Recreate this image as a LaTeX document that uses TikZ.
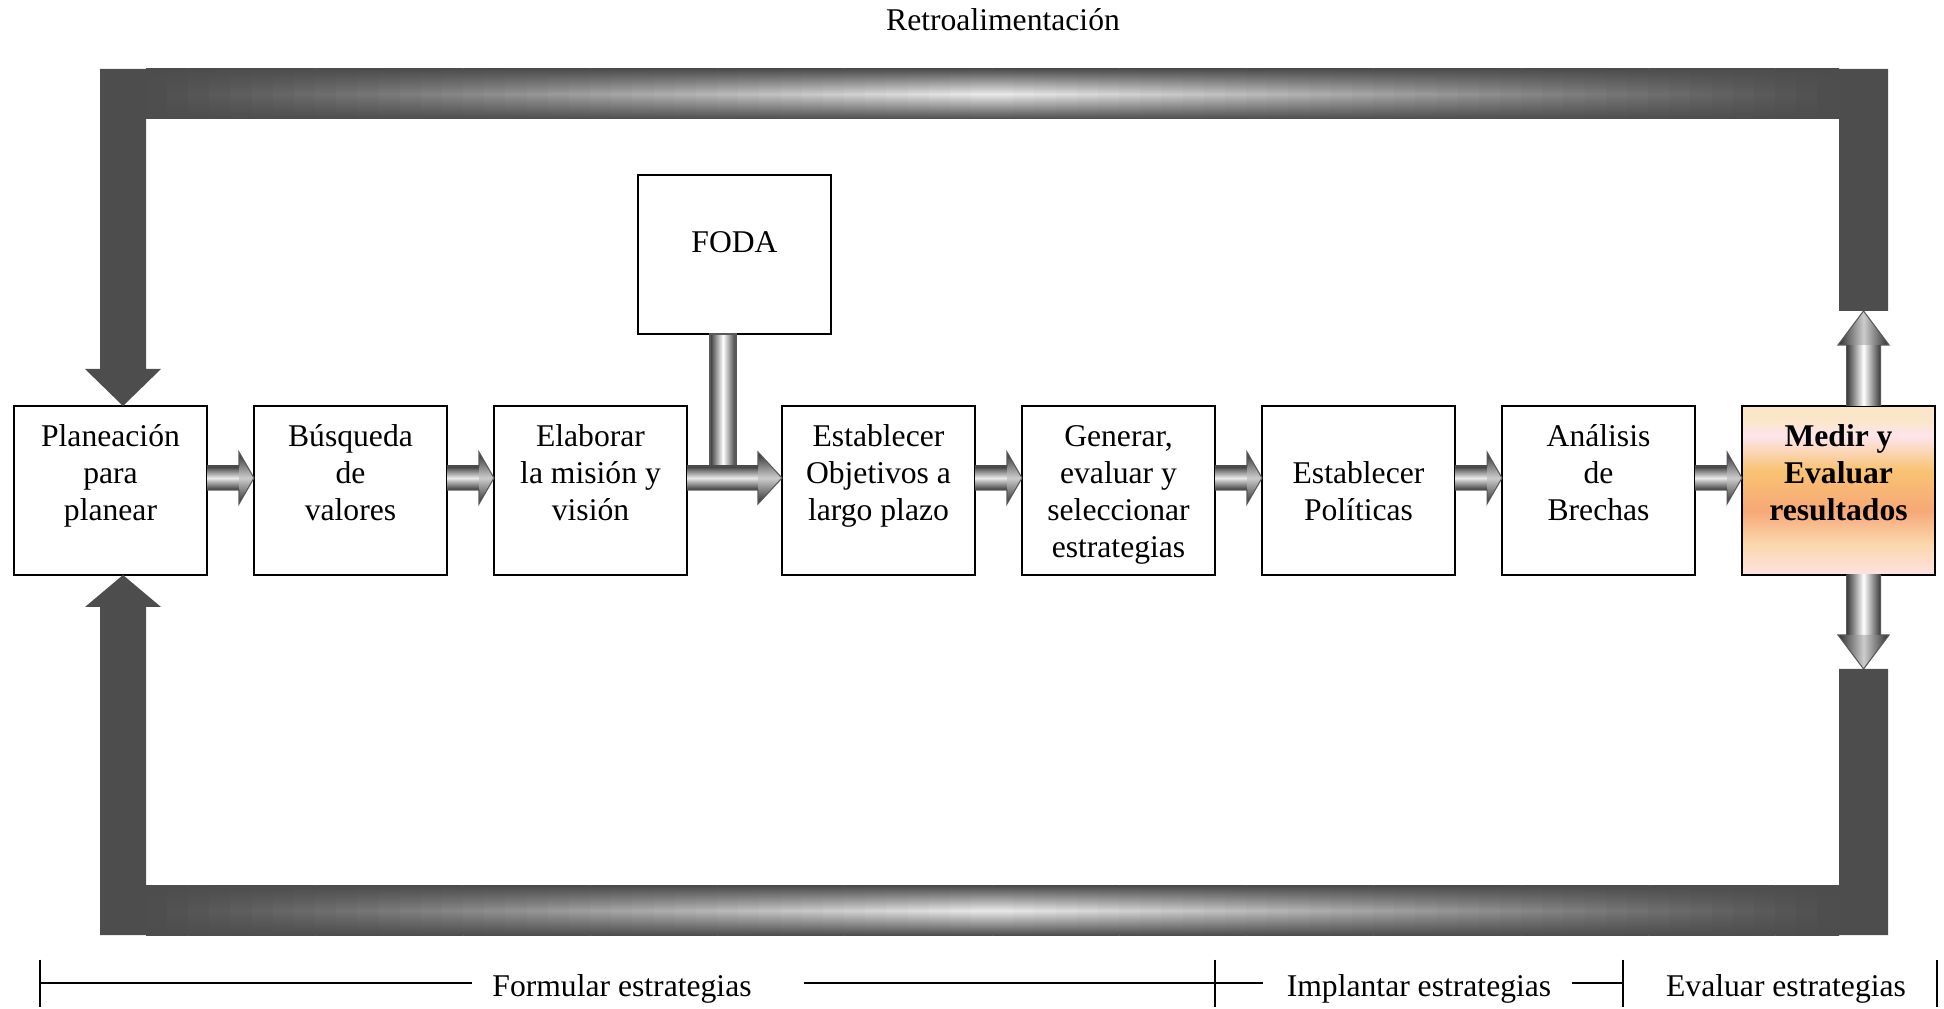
\documentclass[tikz,border=0pt]{standalone}
\usepackage{fontspec}
\setmainfont{Liberation Serif}
\usetikzlibrary{positioning, calc}
\definecolor{bar}{HTML}{4D4D4D}
\definecolor{mcream}{HTML}{FBE6C9}
\definecolor{mpink}{HTML}{FDE5EC}
\definecolor{morange}{HTML}{F9C372}
\definecolor{msalmon}{HTML}{F6A877}
\definecolor{mlight}{HTML}{FCD8AE}
\definecolor{mrose}{HTML}{FDE2E2}
\pgfdeclareverticalshading{medirfill}{100bp}{color(0bp)=(mrose); color(25bp)=(mrose);
  color(34bp)=(mlight); color(44bp)=(msalmon); color(56bp)=(morange); color(66bp)=(mpink);
  color(71bp)=(mcream); color(75bp)=(mcream); color(100bp)=(mcream)}
% invisible rules that fix the four text slots of a box
\newcommand{\boxtop}{\rule{0pt}{10.7pt}}
\newcommand{\boxbot}{\rule[-4pt]{0pt}{4pt}}
% fat shaded arrow between two boxes: #1 head length
\newcommand{\flow}[3][0.15]{%
  \shade[shaft] ($(#2.east)+(0,0.005)$) rectangle ($(#3.west)+(-#1,0.245)$);
  \shade[head] ($(#3.west)+(-#1,-0.135)$) -- ($(#3.west)+(0,0.125)$) -- ($(#3.west)+(-#1,0.385)$) -- cycle;
  \draw[rim] ($(#2.east)+(0,0.005)$) -- ($(#3.west)+(-#1,0.005)$) -- ($(#3.west)+(-#1,-0.135)$)
    -- ($(#3.west)+(0,0.125)$) -- ($(#3.west)+(-#1,0.385)$) -- ($(#3.west)+(-#1,0.245)$) -- ($(#2.east)+(0,0.245)$);}

\begin{document}
\begin{tikzpicture}[font=\fontsize{9}{10.5}\selectfont,
  box/.style={draw, line width=0.6pt, fill=white, align=center, inner sep=0pt, outer sep=0pt,
              minimum width=1.93cm, minimum height=1.69cm},
  hot/.style={box, shade, shading=medirfill, font=\fontsize{9}{10.5}\selectfont\bfseries},
  shaft/.style={top color=black!78, bottom color=black!78, middle color=black!8},
  head/.style={top color=black!82, bottom color=black!82, middle color=black!20},
  vshaft/.style={left color=black!78, right color=black!78, middle color=white},
  vhead/.style={left color=black!82, right color=black!82, middle color=black!20},
  rim/.style={draw=black!65, line width=0.3pt},
  rule/.style={line width=0.5pt},
  lb/.style={inner sep=0pt, text height=7.4pt, text depth=0pt}]
  \useasboundingbox (0,0) rectangle (19.44,10.08);

  \node (retro) at (10.03,9.88) {Retroalimentación};

  % chain of steps
  \node[box] (plan) at (1.105,5.175) {\boxtop Planeación\\para\\planear\\\boxbot};
  \node[box, right=0.47cm of plan] (valores) {\boxtop Búsqueda\\de\\valores\\\boxbot};
  \node[box, right=0.47cm of valores] (mision) {\boxtop Elaborar\\la misión y\\visión\\\boxbot};
  \node[box, right=0.95cm of mision] (objetivos) {\boxtop Establecer\\Objetivos a\\largo plazo\\\boxbot};
  \node[box, right=0.47cm of objetivos] (generar) {\boxtop Generar,\\evaluar y\\seleccionar\\estrategias\boxbot};
  \node[box, right=0.47cm of generar] (politicas) {\boxtop\\Establecer\\Políticas\\\boxbot};
  \node[box, right=0.47cm of politicas] (brechas) {\boxtop Análisis\\de\\Brechas\\\boxbot};
  \node[hot, right=0.47cm of brechas] (medir) {\boxtop Medir y\\Evaluar\\resultados\\\boxbot};
  \node[box, minimum height=1.59cm, text depth=7.3pt] (foda)
    at ($(mision.east)!0.5!(objetivos.west)+(0,2.36)$) {FODA};

  % arrows along the chain
  \flow{plan}{valores}
  \flow{valores}{mision}
  \shade[vshaft, rim] ($(foda.south)+(-0.245,0)$) rectangle ($(foda.south |- mision.east)+(0.015,0.245)$);
  \flow[0.24]{mision}{objetivos}
  \flow{objetivos}{generar}
  \flow{generar}{politicas}
  \flow{politicas}{brechas}
  \flow{brechas}{medir}

  % feedback loop
  \coordinate (upend) at ($(medir.north)+(0.25,0.95)$);
  \coordinate (downend) at ($(medir.south)+(0.25,-0.94)$);
  \coordinate (inL) at ($(plan.north)+(0.125,0)$);
  \coordinate (inB) at ($(plan.south)+(0.125,0)$);
  \coordinate (ftl) at (1.00,9.39);
  \coordinate (fti) at (18.39,8.89);
  \coordinate (fbl) at (1.00,0.73);
  \coordinate (fbi) at (18.39,1.22);

  \shade[vshaft] ($(medir.north)+(0.08,0)$) rectangle ($(upend)+(0.17,-0.34)$);
  \shade[vhead] ($(upend)+(-0.255,-0.34)$) -- (upend) -- ($(upend)+(0.255,-0.34)$) -- cycle;
  \draw[rim] ($(medir.north)+(0.08,0)$) -- ++(0,0.61) -- ++(-0.085,0) -- (upend) -- ++(0.255,-0.34)
    -- ++(-0.085,0) -- ++(0,-0.61);
  \shade[vshaft] ($(medir.south)+(0.08,0)$) rectangle ($(downend)+(0.17,0.34)$);
  \shade[vhead] ($(downend)+(-0.255,0.34)$) -- (downend) -- ($(downend)+(0.255,0.34)$) -- cycle;
  \draw[rim] ($(medir.south)+(0.08,0)$) -- ++(0,-0.60) -- ++(-0.085,0) -- (downend) -- ++(0.255,0.34)
    -- ++(-0.085,0) -- ++(0,0.60);

  \fill[bar] ($(upend)+(-0.245,0)$) -- ++(0.49,0) |- (ftl) |- ($(inL)+(-0.38,0.37)$) -- (inL)
    -- ++(0.38,0.37) -- ++(-0.15,0) |- (fti) -- cycle;
  \fill[bar] ($(downend)+(-0.245,0)$) -- ++(0.49,0) |- (fbl) |- ($(inB)+(-0.38,-0.32)$) -- (inB)
    -- ++(0.38,-0.32) -- ++(-0.15,0) |- (fbi) -- cycle;
  % light sheen along the two long bars
  \foreach \yb/\h in {0.73/0.49, 8.89/0.50}
    \foreach \i in {0,...,79} {
      \pgfmathsetmacro\p{70-62*(1-abs(\i-39.5)/40)}
      \shade[top color=bar, bottom color=bar, middle color=black!\p]
        ({1.46+\i*0.2116},\yb) rectangle ++(0.215,\h);
    }

  % phases
  \coordinate (tk0) at (0.40,0.25);
  \coordinate (tk1) at (12.15,0.25);
  \coordinate (tk2) at (16.23,0.25);
  \coordinate (tk3) at (19.37,0.25);
  \node[lb] (formular) at (6.22,0.25) {Formular estrategias};
  \node[lb] (implantar) at (14.19,0.25) {Implantar estrategias};
  \node[lb] (evaluar) at (17.86,0.25) {Evaluar estrategias};
  \draw[rule] (tk0) -- ([xshift=-0.20cm]formular.west);
  \draw[rule] ([xshift=0.52cm]formular.east) -- (tk1);
  \draw[rule] (tk1) -- ([xshift=-0.23cm]implantar.west);
  \draw[rule] ([xshift=0.20cm]implantar.east) -- (tk2);
  \foreach \t in {tk0,tk1,tk2,tk3}
    \draw[rule] ($(\t)+(0,0.235)$) -- ($(\t)+(0,-0.235)$);
\end{tikzpicture}
\end{document}
